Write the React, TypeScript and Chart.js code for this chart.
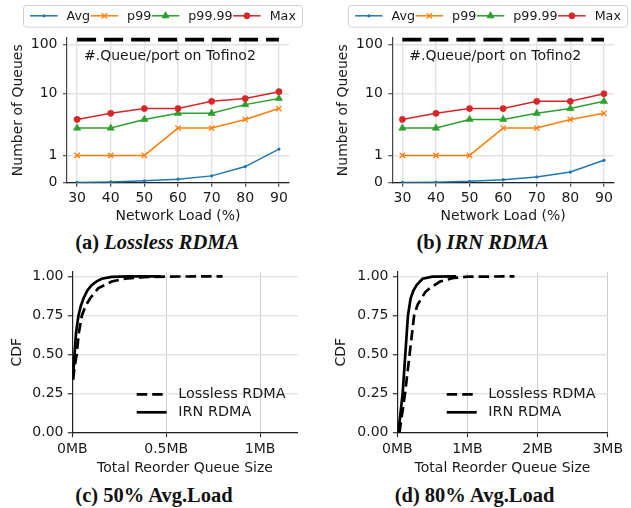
import React, { useEffect, useRef } from 'react';
import { Chart, registerables, LinearScale } from 'chart.js';

Chart.register(...registerables);

const FONT = '"DejaVu Sans", "Noto Sans", sans-serif';
const TEXT = '#1a1a1a';

// ---------- Panels (a)/(b): number of queues vs network load ----------
const LOADS = [30, 40, 50, 60, 70, 80, 90];
const LOSSLESS_AVG = [0.01, 0.03, 0.07, 0.13, 0.25, 0.59, 1.23];
const LOSSLESS_P99 = [1, 1, 1, 2, 2, 3, 5];
const LOSSLESS_P9999 = [2, 2, 3, 4, 4, 6, 8];
const LOSSLESS_MAX = [3, 4, 5, 5, 7, 8, 11];
const IRN_AVG = [0.01, 0.02, 0.05, 0.11, 0.21, 0.39, 0.82];
const IRN_P99 = [1, 1, 1, 2, 2, 3, 4];
const IRN_P9999 = [2, 2, 3, 3, 4, 5, 7];
const IRN_MAX = [3, 4, 5, 5, 7, 7, 10];
const QUEUES_PER_PORT = 128;
const QUEUE_NOTE = '#.Queue/port on Tofino2';
const QUEUE_Y_TICKS = [0, 1, 10, 100];
const LOAD_X_TICKS = [30, 40, 50, 60, 70, 80, 90];

// ---------- Panels (c)/(d): CDF of total reorder queue size (MB) ----------
const C_LOSSLESS_MB = [0.004, 0.012, 0.023, 0.035, 0.051, 0.07, 0.095, 0.139, 0.21, 0.28, 0.38, 0.5, 0.8];
const C_LOSSLESS_CDF = [0.34, 0.42, 0.5, 0.64, 0.75, 0.81, 0.86, 0.925, 0.967, 0.985, 0.995, 0.999, 1.0];
const C_IRN_MB = [0.003, 0.007, 0.012, 0.02, 0.033, 0.045, 0.06, 0.08, 0.104, 0.13, 0.157, 0.21, 0.3, 0.47];
const C_IRN_CDF = [0.34, 0.42, 0.5, 0.64, 0.75, 0.81, 0.86, 0.91, 0.945, 0.968, 0.985, 0.997, 1.0, 1.0];
const D_LOSSLESS_MB = [0.03, 0.11, 0.175, 0.24, 0.29, 0.346, 0.4, 0.465, 0.61, 0.8, 1.0, 1.67];
const D_LOSSLESS_CDF = [0, 0.25, 0.5, 0.75, 0.82, 0.86, 0.9, 0.925, 0.967, 0.99, 0.998, 1.0];
const D_IRN_MB = [0.015, 0.076, 0.114, 0.152, 0.19, 0.23, 0.275, 0.36, 0.5, 0.84];
const D_IRN_CDF = [0, 0.25, 0.5, 0.75, 0.86, 0.91, 0.945, 0.985, 0.998, 1.0];
const CDF_Y_TICKS = [0, 0.25, 0.5, 0.75, 1];
const C_X_TICKS = [0, 0.5, 1];
const D_X_TICKS = [0, 1, 2, 3];

const BLUE = '#1f77b4';
const ORANGE = '#ff7f0e';
const GREEN = '#2ca02c';
const RED = '#d62728';

// ---------- symlog scale (linthresh 2, base 10, linscale 1) ----------
const LINTHRESH = 2;
const LINSCALE_ADJ = 1 / (1 - 1 / 10);
function symlog(v: number) {
  const a = Math.abs(v);
  if (a <= LINTHRESH) return v * LINSCALE_ADJ;
  return Math.sign(v) * LINTHRESH * (LINSCALE_ADJ + Math.log10(a / LINTHRESH));
}
function symlogInv(t: number) {
  const a = Math.abs(t);
  if (a <= LINTHRESH * LINSCALE_ADJ) return t / LINSCALE_ADJ;
  return Math.sign(t) * LINTHRESH * Math.pow(10, a / LINTHRESH - LINSCALE_ADJ);
}
class SymlogScale extends LinearScale {
  static id = 'symlog';
  static defaults = {};
  getPixelForValue(value: any) {
    const a = symlog(this.min);
    const b = symlog(this.max);
    return this.getPixelForDecimal((symlog(value) - a) / (b - a));
  }
  getValueForPixel(pixel: number) {
    const a = symlog(this.min);
    const b = symlog(this.max);
    return symlogInv(a + this.getDecimalForPixel(pixel) * (b - a));
  }
}
Chart.register(SymlogScale as any);

function drawMarker(ctx: CanvasRenderingContext2D, style: string, x: number, y: number, r: number, color: string, bw: number) {
  ctx.save();
  ctx.fillStyle = color;
  ctx.strokeStyle = color;
  ctx.lineWidth = bw;
  ctx.setLineDash([]);
  ctx.beginPath();
  if (style === 'circle') {
    ctx.arc(x, y, r, 0, Math.PI * 2);
    ctx.fill();
    if (bw > 0) ctx.stroke();
  } else if (style === 'triangle') {
    for (let i = 0; i < 3; i++) {
      const ang = (i * 2 * Math.PI) / 3;
      const px = x + Math.sin(ang) * r;
      const py = y - Math.cos(ang) * r;
      if (i === 0) ctx.moveTo(px, py);
      else ctx.lineTo(px, py);
    }
    ctx.closePath();
    ctx.fill();
    if (bw > 0) ctx.stroke();
  } else if (style === 'crossRot') {
    const d = r * Math.SQRT1_2;
    ctx.moveTo(x - d, y - d);
    ctx.lineTo(x + d, y + d);
    ctx.moveTo(x - d, y + d);
    ctx.lineTo(x + d, y - d);
    ctx.stroke();
  }
  ctx.restore();
}

function roundRect(ctx: CanvasRenderingContext2D, x: number, y: number, w: number, h: number, r: number) {
  ctx.beginPath();
  ctx.moveTo(x + r, y);
  ctx.lineTo(x + w - r, y);
  ctx.arcTo(x + w, y, x + w, y + r, r);
  ctx.lineTo(x + w, y + h - r);
  ctx.arcTo(x + w, y + h, x + w - r, y + h, r);
  ctx.lineTo(x + r, y + h);
  ctx.arcTo(x, y + h, x, y + h - r, r);
  ctx.lineTo(x, y + r);
  ctx.arcTo(x, y, x + r, y, r);
  ctx.closePath();
}

function queueDecor(frameX: number) {
  return {
    id: 'queueDecor',
    afterDraw(chart: any) {
      const ctx: CanvasRenderingContext2D = chart.ctx;
      const ca = chart.chartArea;
      ctx.save();
      ctx.font = `14px ${FONT}`;
      ctx.fillStyle = TEXT;
      ctx.textAlign = 'left';
      ctx.textBaseline = 'alphabetic';
      ctx.fillText(QUEUE_NOTE, ca.left + 17, 60);

      // legend
      const fw = 279, fy = 5, fh = 21.7;
      ctx.fillStyle = 'rgba(255,255,255,0.85)';
      ctx.strokeStyle = '#d0d0d0';
      ctx.lineWidth = 1;
      roundRect(ctx, frameX + 0.5, fy + 0.5, fw, fh, 3);
      ctx.fill();
      ctx.stroke();
      ctx.font = `12.7px ${FONT}`;
      const items = chart.data.datasets.slice(0, 4);
      const handle = 27.5, gap = 9, colGap = 0.5;
      const widths = items.map((d: any) => ctx.measureText(d.label).width);
      const total = items.length * (handle + gap) + widths.reduce((s: number, w: number) => s + w, 0) + colGap * (items.length - 1);
      let x = frameX + 0.5 + (fw - total) / 2;
      const cy = 15.8;
      items.forEach((d: any, i: number) => {
        ctx.strokeStyle = d.borderColor;
        ctx.lineWidth = d.borderWidth;
        ctx.beginPath();
        ctx.moveTo(x, cy);
        ctx.lineTo(x + handle, cy);
        ctx.stroke();
        drawMarker(ctx, d.pointStyle, x + handle / 2, cy, d.pointRadius, d.borderColor, d.pointBorderWidth);
        x += handle + gap;
        ctx.fillStyle = TEXT;
        ctx.textBaseline = 'alphabetic';
        ctx.fillText(d.label, x, 20.3);
        x += widths[i] + colGap;
      });
      ctx.restore();
    },
  };
}

function cdfLegend(hx: number, tx: number) {
  return {
    id: 'cdfLegend',
    afterDraw(chart: any) {
      const ctx: CanvasRenderingContext2D = chart.ctx;
      ctx.save();
      ctx.font = `14.4px ${FONT}`;
      ctx.fillStyle = TEXT;
      ctx.textBaseline = 'middle';
      ctx.textAlign = 'left';
      const rows = [139.3, 157.3];
      chart.data.datasets.forEach((d: any, i: number) => {
        ctx.strokeStyle = d.borderColor;
        ctx.lineWidth = d.borderWidth;
        ctx.setLineDash(d.borderDash || []);
        ctx.beginPath();
        ctx.moveTo(hx, rows[i]);
        ctx.lineTo(hx + 30, rows[i]);
        ctx.stroke();
        ctx.setLineDash([]);
        ctx.fillText(d.label, tx, rows[i]);
      });
      ctx.restore();
    },
  };
}

function pts(xs: number[], ys: number[]) {
  return xs.map((x, i) => ({ x, y: ys[i] }));
}

function queueConfig(avg: number[], p99: number[], p9999: number[], max: number[], p: any) {
  const line = (label: string, data: number[], color: string, style: string, r: number, bw: number, order: number) => ({
    label,
    data: pts(LOADS, data),
    borderColor: color,
    backgroundColor: color,
    borderWidth: 1.5,
    pointStyle: style,
    pointRadius: r,
    pointBorderWidth: bw,
    pointBackgroundColor: color,
    pointBorderColor: color,
    order,
  });
  return {
    type: 'line',
    data: {
      datasets: [
        line('Avg', avg, BLUE, 'circle', 1.6, 0, 4),
        line('p99', p99, ORANGE, 'crossRot', 3.8, 1.3, 3),
        line('p99.99', p9999, GREEN, 'triangle', 4.2, 0.6, 2),
        line('Max', max, RED, 'circle', 3.1, 0.6, 1),
        {
          label: QUEUE_NOTE,
          data: [{ x: LOADS[0], y: QUEUES_PER_PORT }, { x: LOADS[LOADS.length - 1], y: QUEUES_PER_PORT }],
          borderColor: '#000',
          borderWidth: 4.5,
          borderDash: [19, 8],
          pointRadius: 0,
          order: 0,
        },
      ],
    },
    options: {
      responsive: false,
      animation: false,
      events: [],
      layout: { padding: { left: 0, top: 37.7, right: p.padRight, bottom: 0 } },
      plugins: { legend: { display: false }, tooltip: { enabled: false } },
      scales: {
        x: {
          type: 'linear',
          min: 27,
          max: 93,
          afterBuildTicks: (s: any) => { s.ticks = LOAD_X_TICKS.map((v) => ({ value: v })); },
          afterFit: (s: any) => { s.height = 228 - 182.7; },
          ticks: { font: { size: 14, family: FONT }, color: TEXT, padding: 2.8, maxRotation: 0, autoSkip: false, callback: (v: any) => String(v) },
          grid: { color: '#e2e2e2', lineWidth: 1.4, tickLength: 4, tickColor: '#333', tickWidth: 1.1 },
          border: { color: '#222', width: 1.2 },
          title: { display: true, text: 'Network Load (%)', font: { size: 14, family: FONT }, color: TEXT, padding: { top: 0, bottom: 3.6 } },
        },
        y: {
          type: 'symlog',
          min: 0,
          max: 138,
          afterBuildTicks: (s: any) => { s.ticks = QUEUE_Y_TICKS.map((v) => ({ value: v })); },
          afterFit: (s: any) => { s.width = p.areaLeft; },
          ticks: { font: { size: 14, family: FONT }, color: TEXT, padding: 5.5, autoSkip: false, callback: (v: any) => String(v) },
          grid: { color: '#e2e2e2', lineWidth: 1.4, tickLength: 4, tickColor: '#444', tickWidth: 1.1 },
          border: { color: '#444', width: 1.2 },
          title: { display: true, text: 'Number of Queues', font: { size: 14, family: FONT }, color: TEXT, padding: { top: p.titlePad, bottom: 0 } },
        },
      },
    },
    plugins: [queueDecor(p.frameX)],
  };
}

function cdfConfig(lossX: number[], lossY: number[], irnX: number[], irnY: number[], xTicks: number[], xMax: number, p: any) {
  return {
    type: 'line',
    data: {
      datasets: [
        { label: 'Lossless RDMA', data: pts(lossX, lossY), borderColor: '#000', borderWidth: 2.7, borderDash: [10.5, 5], pointRadius: 0, order: 1 },
        { label: 'IRN RDMA', data: pts(irnX, irnY), borderColor: '#000', borderWidth: 2.7, pointRadius: 0, order: 0 },
      ],
    },
    options: {
      responsive: false,
      animation: false,
      events: [],
      layout: { padding: { left: 0, top: 16.7, right: p.padRight, bottom: 0 } },
      plugins: { legend: { display: false }, tooltip: { enabled: false } },
      scales: {
        x: {
          type: 'linear',
          min: 0,
          max: xMax,
          afterBuildTicks: (s: any) => { s.ticks = xTicks.map((v) => ({ value: v })); },
          afterFit: (s: any) => { s.height = 225 - 177.7; },
          ticks: { font: { size: 14, family: FONT }, color: TEXT, padding: 3.6, maxRotation: 0, autoSkip: false, callback: (v: any) => `${v}MB` },
          grid: { color: '#cfcfcf', lineWidth: 1, tickLength: 4.5, tickColor: '#222', tickWidth: 1.1 },
          border: { color: '#222', width: 1.2 },
          title: { display: true, text: 'Total Reorder Queue Size', font: { size: 14, family: FONT }, color: TEXT, padding: { top: 0, bottom: 3.6 } },
        },
        y: {
          type: 'linear',
          min: 0,
          max: 1.03,
          afterBuildTicks: (s: any) => { s.ticks = CDF_Y_TICKS.map((v) => ({ value: v })); },
          afterFit: (s: any) => { s.width = p.areaLeft; },
          ticks: { font: { size: 14, family: FONT }, color: TEXT, padding: 4.3, autoSkip: false, callback: (v: any) => Number(v).toFixed(2) },
          grid: { color: '#e4e4e4', lineWidth: 1.5, tickLength: 4.5, tickColor: '#222', tickWidth: 1.1 },
          border: { color: '#222', width: 1.2 },
          title: { display: true, text: 'CDF', font: { size: 14, family: FONT }, color: TEXT, padding: { top: p.titlePad, bottom: 0 } },
        },
      },
    },
    plugins: [cdfLegend(p.hx, p.tx)],
  };
}

function ChartCanvas({ left, top, width, height, build }: { left: number; top: number; width: number; height: number; build: () => any }) {
  const ref = useRef<HTMLCanvasElement>(null);
  useEffect(() => {
    const chart = new Chart(ref.current as HTMLCanvasElement, build());
    return () => chart.destroy();
  }, []);
  return (
    <canvas
      ref={ref}
      width={width}
      height={height}
      style={{ position: 'absolute', left, top, width, height, display: 'block' }}
    />
  );
}

const captionStyle = (cx: number, top: number): React.CSSProperties => ({
  position: 'absolute',
  left: cx - 150,
  width: 300,
  top,
  textAlign: 'center',
  fontFamily: '"Liberation Serif", "DejaVu Serif", serif',
  fontWeight: 'bold',
  fontSize: 20.5,
  lineHeight: '20.5px',
  color: '#111',
  whiteSpace: 'nowrap',
});

export default function App() {
  return (
    <div style={{ position: 'absolute', left: 0, top: 0, width: 631, height: 508, background: '#fff', overflow: 'hidden' }}>
      <ChartCanvas
        left={0}
        top={0}
        width={315}
        height={228}
        build={() => queueConfig(LOSSLESS_AVG, LOSSLESS_P99, LOSSLESS_P9999, LOSSLESS_MAX, { padRight: 26, areaLeft: 67, titlePad: 9.6, frameX: 23 })}
      />
      <ChartCanvas
        left={315}
        top={0}
        width={316}
        height={228}
        build={() => queueConfig(IRN_AVG, IRN_P99, IRN_P9999, IRN_MAX, { padRight: 17, areaLeft: 77.3, titlePad: 19.6, frameX: 33 })}
      />
      <ChartCanvas
        left={0}
        top={255}
        width={315}
        height={225}
        build={() => cdfConfig(C_LOSSLESS_MB, C_LOSSLESS_CDF, C_IRN_MB, C_IRN_CDF, C_X_TICKS, 1.2, { padRight: 17.3, areaLeft: 72.3, titlePad: 8.6, hx: 136.7, tx: 178.3 })}
      />
      <ChartCanvas
        left={315}
        top={255}
        width={316}
        height={225}
        build={() => cdfConfig(D_LOSSLESS_MB, D_LOSSLESS_CDF, D_IRN_MB, D_IRN_CDF, D_X_TICKS, 3, { padRight: 23.3, areaLeft: 82.3, titlePad: 18.3, hx: 131.7, tx: 173.3 })}
      />
      <div style={captionStyle(157.2, 232.3)}>(a) <i>Lossless RDMA</i></div>
      <div style={captionStyle(482.5, 232.3)}>(b) <i>IRN RDMA</i></div>
      <div style={captionStyle(154, 484.5)}>(c) 50% Avg.Load</div>
      <div style={captionStyle(474.5, 484.5)}>(d) 80% Avg.Load</div>
    </div>
  );
}
